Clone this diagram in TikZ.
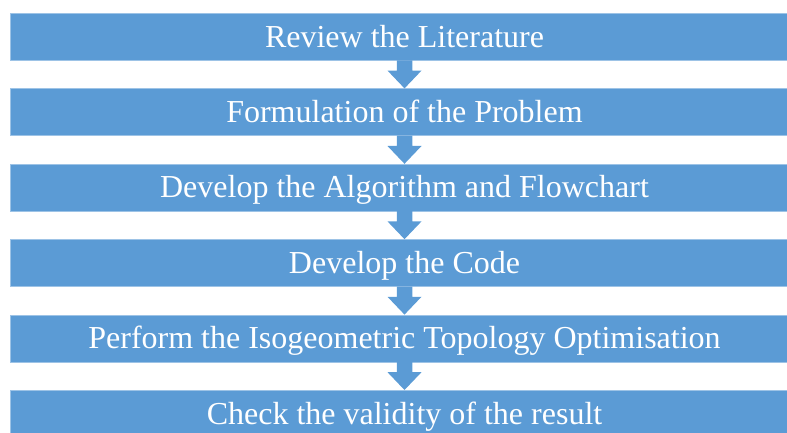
\documentclass[tikz,border=0pt]{standalone}
\usepackage{fontspec}
\setmainfont{Liberation Serif}
\usetikzlibrary{calc}
\definecolor{stepblue}{HTML}{5B9BD5}
\definecolor{stepedge}{HTML}{9DC3E6}
\tikzset{
  stepbox/.style={fill=stepblue, draw=stepedge, line width=0.6pt,
    minimum width=789pt, minimum height=47pt, inner sep=0pt},
  steplabel/.style={text=white, font=\fontsize{32}{36}\selectfont,
    anchor=base, inner sep=0pt},
  flowarrow/.style={fill=stepblue}
}
% block arrow from the bottom of box #1 to the top of box #2
\newcommand{\blockarrow}[2]{%
  \fill[flowarrow]
    ($(#1.south)+(-7.75pt,0.3pt)$) -- ($(#1.south)+(7.75pt,0.3pt)$)
    -- ($(#1.south)+(7.75pt,-10pt)$) -- ($(#1.south)+(17pt,-10pt)$)
    -- (#2.north) -- ($(#1.south)+(-17pt,-10pt)$)
    -- ($(#1.south)+(-7.75pt,-10pt)$) -- cycle;}
\begin{document}
\begin{tikzpicture}[x=1pt,y=1pt]
\useasboundingbox (0,0) rectangle (787,-433);
\clip (0,0) rectangle (787,-433);
\foreach \i/\t in {1/Review the Literature,
                   2/Formulation of the Problem,
                   3/Develop the Algorithm and Flowchart,
                   4/Develop the Code,
                   5/Perform the Isogeometric Topology Optimisation,
                   6/Check the validity of the result}{
  \node[stepbox] (b\i) at (404.5,{-36.8-75.4*(\i-1)}) {};
  \node[steplabel] (t\i) at ($(b\i.center)+(0,-10.3)$) {\t};
}
\blockarrow{b1}{b2}
\blockarrow{b2}{b3}
\blockarrow{b3}{b4}
\blockarrow{b4}{b5}
\blockarrow{b5}{b6}
\end{tikzpicture}
\end{document}
